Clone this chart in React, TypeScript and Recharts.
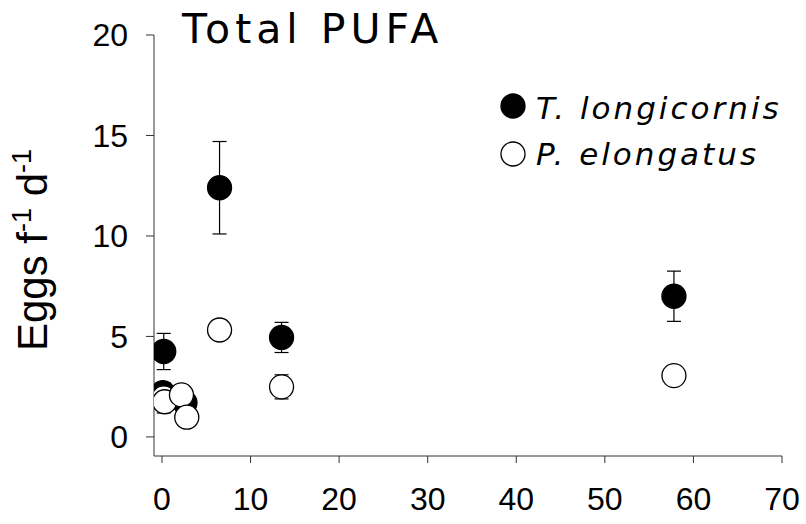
import { ScatterChart, Scatter, XAxis, YAxis, ZAxis, ErrorBar } from "recharts";

// sampling day of each measurement
const tlDays = [0.2, 0.1, 2.6, 6.5, 13.5, 57.8];
const tlEggs = [4.25, 2.2, 1.7, 12.4, 4.95, 7.0];
const tlErr = [0.9, 0.4, 0.3, 2.3, 0.75, 1.25];

const peDays = [0.2, 0.3, 2.2, 2.8, 6.5, 13.5, 57.8];
const peEggs = [1.94, 1.75, 2.09, 0.98, 5.32, 2.49, 3.05];
const peErr = [0.75, 0.3, 0.3, 0.3, 0.3, 0.6, 0.3];

const xTicks = [0, 10, 20, 30, 40, 50, 60, 70];
const yTicks = [0, 5, 10, 15, 20];

const seriesNames = ["T. longicornis", "P. elongatus"];

const toRows = (xs: number[], ys: number[], es: number[]) =>
  xs.map((x, i) => ({ x, y: ys[i], err: es[i] }));

const tlData = toRows(tlDays, tlEggs, tlErr);
const peData = toRows(peDays, peEggs, peErr);

const R = 12;
const tickFont = { fontFamily: "Liberation Sans", fontSize: 32, fill: "#000" };

function Dot(props: any) {
  const { cx, cy, filled } = props;
  return (
    <circle
      cx={cx}
      cy={cy}
      r={R}
      fill={filled ? "#000" : "#fff"}
      stroke="#000"
      strokeWidth={1.3}
    />
  );
}

function YLabel() {
  const x = 47;
  const y = 250;
  return (
    <text
      x={x}
      y={y}
      transform={`rotate(-90 ${x} ${y})`}
      textAnchor="middle"
      fontFamily="Liberation Sans"
      fontSize={42}
      fill="#000"
    >
      Eggs f
      <tspan dy={-16} fontSize={27}>-1</tspan>
      <tspan dy={16}> d</tspan>
      <tspan dy={-16} fontSize={27}>-1</tspan>
    </text>
  );
}

export default function App() {
  return (
    <div style={{ position: "absolute", left: 0, top: 0, width: 806, height: 524, background: "#fff" }}>
      <ScatterChart
        width={806}
        height={524}
        margin={{ top: 35, right: 24, bottom: 8, left: 54 }}
      >
        <XAxis
          type="number"
          dataKey="x"
          domain={[-0.9, 70]}
          ticks={xTicks}
          allowDataOverflow
          height={60}
          tickSize={7}
          tickMargin={24}
          tick={tickFont}
          stroke="#333"
        />
        <YAxis
          type="number"
          dataKey="y"
          domain={[-0.95, 20]}
          ticks={yTicks}
          allowDataOverflow
          width={100}
          tickSize={8}
          tickMargin={18}
          tick={tickFont}
          stroke="#333"
          label={{ content: YLabel }}
        />
        <ZAxis range={[450, 450]} />
        <Scatter
          name={seriesNames[0]}
          data={tlData}
          shape={(p: any) => <Dot {...p} filled />}
          isAnimationActive={false}
        >
          <ErrorBar dataKey="err" direction="y" width={7} stroke="#000" strokeWidth={1.2} />
        </Scatter>
        <Scatter
          name={seriesNames[1]}
          data={peData}
          shape={(p: any) => <Dot {...p} />}
          isAnimationActive={false}
        >
          <ErrorBar dataKey="err" direction="y" width={7} stroke="#000" strokeWidth={1.2} />
        </Scatter>
      </ScatterChart>
      {/* title and legend */}
      <svg
        width={806}
        height={524}
        style={{ position: "absolute", left: 0, top: 0, pointerEvents: "none" }}
      >
        <text x={182} y={43} fontFamily="DejaVu Sans" fontSize={41} letterSpacing={5} fill="#000">
          Total PUFA
        </text>
        {seriesNames.map((name, i) => (
          <g key={name}>
            <circle
              cx={513}
              cy={106 + i * 48}
              r={R}
              fill={i === 0 ? "#000" : "#fff"}
              stroke="#000"
              strokeWidth={1.3}
            />
            <text
              x={536}
              y={119 + i * 46}
              fontFamily="DejaVu Sans"
              fontStyle="italic"
              fontSize={31}
              letterSpacing={3}
              fill="#000"
            >
              {name}
            </text>
          </g>
        ))}
      </svg>
    </div>
  );
}
